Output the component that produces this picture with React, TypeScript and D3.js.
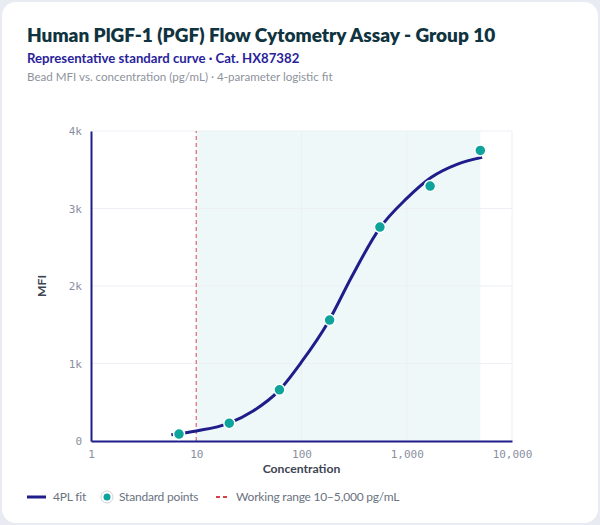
import * as d3 from "d3";
import React, { useEffect, useRef } from "react";

// standard points (3-fold dilution series)
const stdConc = [6.86, 20.6, 61.7, 185, 556, 1667, 5000];
const stdMfi = [90, 230, 660, 1560, 2760, 3290, 3750];

// fitted 4PL curve
const fitConc = [5.8, 10, 20, 35, 60, 100, 180, 300, 550, 1000, 1700, 3000, 5200];
const fitMfi = [80, 130, 225, 390, 640, 1020, 1540, 2120, 2740, 3130, 3400, 3570, 3660];

const xTicks = [1, 10, 100, 1000, 10000];
const yTicks = [0, 1000, 2000, 3000, 4000];
const workingRange = [10, 5000];

const W = 600;
const H = 525;

const App: React.FC = () => {
  const svgRef = useRef<SVGSVGElement>(null);
  const margin = { top: 131, right: 88, bottom: 84, left: 91 };

  useEffect(() => {
    document.body.style.margin = "0";
    const svg = d3.select(svgRef.current);
    svg.selectAll("*").remove();

    const font = "Lato, 'Noto Sans', sans-serif";
    const mono = "'DejaVu Sans Mono', monospace";

    svg.append("rect").attr("width", W).attr("height", H).attr("fill", "#e9ebf2");
    svg
      .append("rect")
      .attr("x", 2)
      .attr("y", 2)
      .attr("width", W - 4)
      .attr("height", H - 4)
      .attr("rx", 14)
      .attr("fill", "#fff");

    svg
      .append("text")
      .attr("x", 27)
      .attr("y", 42)
      .attr("font-family", font)
      .attr("font-weight", 800)
      .attr("font-size", 19)
      .attr("fill", "#0f3440")
      .text("Human PlGF-1 (PGF) Flow Cytometry Assay - Group 10");
    svg
      .append("text")
      .attr("x", 27)
      .attr("y", 63)
      .attr("font-family", font)
      .attr("font-weight", 700)
      .attr("font-size", 13.2)
      .attr("fill", "#2a1f9a")
      .text("Representative standard curve · Cat. HX87382");
    svg
      .append("text")
      .attr("x", 27)
      .attr("y", 81)
      .attr("font-family", font)
      .attr("font-size", 11.6)
      .attr("fill", "#8e939c")
      .text("Bead MFI vs. concentration (pg/mL) · 4-parameter logistic fit");

    const x = d3.scaleLog().domain([1, 10000]).range([margin.left, W - margin.right]);
    const y = d3.scaleLinear().domain([0, 4000]).range([H - margin.bottom, margin.top]);

    // working range shading
    svg
      .append("rect")
      .attr("x", x(workingRange[0]))
      .attr("y", y(4000))
      .attr("width", x(workingRange[1]) - x(workingRange[0]))
      .attr("height", y(0) - y(4000))
      .attr("fill", "#eef8f9");

    // grid
    const grid = svg.append("g").attr("stroke", "#eceff4").attr("stroke-width", 1);
    yTicks.slice(1).forEach((t) => {
      grid.append("line").attr("x1", x(1)).attr("x2", x(10000)).attr("y1", y(t)).attr("y2", y(t));
    });
    xTicks.slice(2).forEach((t) => {
      grid.append("line").attr("x1", x(t)).attr("x2", x(t)).attr("y1", y(0)).attr("y2", y(4000));
    });

    // working range lower limit
    svg
      .append("line")
      .attr("x1", x(workingRange[0]))
      .attr("x2", x(workingRange[0]))
      .attr("y1", y(0))
      .attr("y2", y(4000))
      .attr("stroke", "#e0707a")
      .attr("stroke-width", 1.3)
      .attr("stroke-dasharray", "4,3");

    // axes
    const xAxis = svg
      .append("g")
      .attr("transform", `translate(0,${y(0)})`)
      .call(
        d3
          .axisBottom(x)
          .tickValues(xTicks)
          .tickFormat((d) => d3.format(",")(d as number))
          .tickSize(0)
          .tickPadding(9)
      );
    const yAxis = svg
      .append("g")
      .attr("transform", `translate(${x(1)},0)`)
      .call(
        d3
          .axisLeft(y)
          .tickValues(yTicks)
          .tickFormat((d) => ((d as number) === 0 ? "0" : `${(d as number) / 1000}k`))
          .tickSize(0)
          .tickPadding(9)
      );
    [xAxis, yAxis].forEach((g) => {
      g.select(".domain").attr("stroke", "#1f1d8a").attr("stroke-width", 2);
      g.selectAll(".tick text").attr("font-family", mono).attr("font-size", 11).attr("fill", "#8a8fa0");
    });

    svg
      .append("text")
      .attr("x", (x(1) + x(10000)) / 2)
      .attr("y", 473)
      .attr("text-anchor", "middle")
      .attr("font-family", font)
      .attr("font-weight", 700)
      .attr("font-size", 12.2)
      .attr("fill", "#3d4452")
      .text("Concentration");
    svg
      .append("text")
      .attr("transform", `translate(46,${(y(0) + y(4000)) / 2}) rotate(-90)`)
      .attr("text-anchor", "middle")
      .attr("font-family", font)
      .attr("font-weight", 700)
      .attr("font-size", 12.2)
      .attr("fill", "#3d4452")
      .text("MFI");

    // fit curve
    const line = d3
      .line<number>()
      .x((d, i) => x(fitConc[i]))
      .y((d) => y(d))
      .curve(d3.curveMonotoneX);
    svg
      .append("path")
      .attr("d", line(fitMfi))
      .attr("fill", "none")
      .attr("stroke", "#1f1d8a")
      .attr("stroke-width", 3);

    // standard points
    svg
      .append("g")
      .selectAll("circle")
      .data(stdMfi)
      .enter()
      .append("circle")
      .attr("cx", (d, i) => x(stdConc[i]))
      .attr("cy", (d) => y(d))
      .attr("r", 5.5)
      .attr("fill", "#0ea39b")
      .attr("stroke", "#fff")
      .attr("stroke-width", 1.5);

    // legend
    const lg = svg
      .append("g")
      .attr("font-family", font)
      .attr("font-size", 12)
      .attr("letter-spacing", -0.2)
      .attr("fill", "#6b7280");
    const ly = 497;
    lg.append("line").attr("x1", 27).attr("x2", 46).attr("y1", ly).attr("y2", ly).attr("stroke", "#1f1d8a").attr("stroke-width", 3);
    lg.append("text").attr("x", 53).attr("y", ly + 4).text("4PL fit");
    lg.append("circle").attr("cx", 107).attr("cy", ly).attr("r", 6).attr("fill", "#fff").attr("stroke", "#d0d4dc").attr("stroke-width", 1);
    lg.append("circle").attr("cx", 107).attr("cy", ly).attr("r", 3.5).attr("fill", "#0ea39b");
    lg.append("text").attr("x", 119).attr("y", ly + 4).text("Standard points");
    lg.append("line")
      .attr("x1", 216)
      .attr("x2", 229)
      .attr("y1", ly)
      .attr("y2", ly)
      .attr("stroke", "#d9404a")
      .attr("stroke-width", 2)
      .attr("stroke-dasharray", "4,3");
    lg.append("text").attr("x", 236).attr("y", ly + 4).text("Working range 10–5,000 pg/mL");
  }, []);

  return <svg ref={svgRef} width={W} height={H} style={{ display: "block" }}></svg>;
};

export default App;
